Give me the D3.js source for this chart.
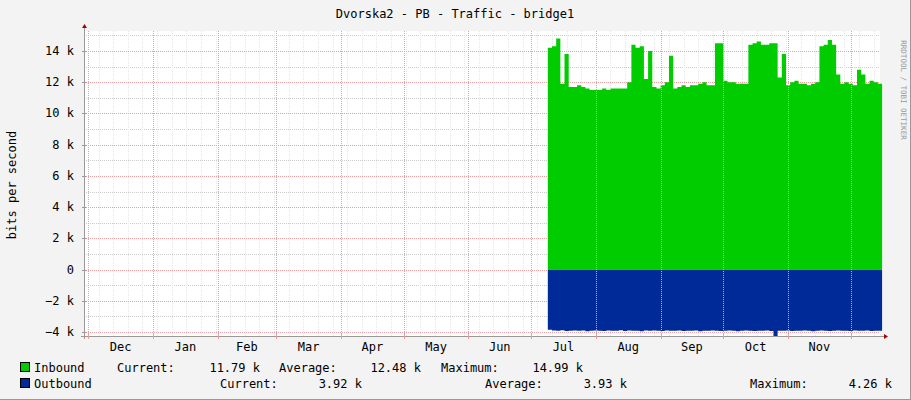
<!DOCTYPE html>
<html><head><meta charset="utf-8">
<script src="https://cdn.jsdelivr.net/npm/d3@7"></script>
<style>body{margin:0;background:#f3f3f3}svg{display:block}text{font-family:"DejaVu Sans Mono",monospace;}</style>
</head><body><svg id="c" width="911" height="400"></svg>
<script>
const title = "Dvorska2 - PB - Traffic - bridge1";
const startDate = "2011-07-09";
const stepDays = 2;
const inbound = [14.2,14.3,14.8,11.9,13.8,11.7,11.7,11.8,11.7,11.6,11.5,11.5,11.5,11.6,11.5,11.6,11.6,11.6,11.6,12.0,
14.4,14.2,14.3,12.2,14.0,11.7,11.6,11.8,12.0,13.7,11.6,11.7,11.8,11.7,11.8,11.8,11.9,12.0,11.8,11.8,
14.5,14.5,12.1,12.0,12.0,11.9,11.9,11.9,14.4,14.5,14.6,14.4,14.4,14.5,14.5,12.3,13.8,11.8,12.0,12.1,
11.9,11.9,11.8,11.9,12.0,14.3,14.4,14.7,14.4,12.5,11.9,12.0,11.9,11.8,12.8,12.5,11.9,12.1,12.0,11.9,11.8];
const outbound = [3.85,3.90,3.92,3.88,3.93,3.91,3.90,3.92,3.89,3.94,3.91,3.90,3.92,3.93,3.90,3.91,3.92,3.88,3.93,3.90,
3.91,3.92,3.94,3.90,3.91,3.89,3.92,3.93,3.90,3.91,3.92,3.90,3.93,3.91,3.92,3.90,3.94,3.91,3.92,3.90,
3.91,3.93,3.92,3.90,3.91,3.94,3.92,3.90,3.91,3.93,3.92,3.91,3.90,3.93,4.26,3.91,3.92,3.90,3.93,3.91,
3.92,3.90,3.91,3.94,3.92,3.90,3.91,3.93,3.92,3.90,3.91,3.92,3.93,3.90,3.91,3.92,3.90,3.93,3.91,3.92,3.92];
const yTicks = [-4,-2,0,2,4,6,8,10,12,14];
const legendRows = [
 {name:"Inbound", color:"#00cc00", items:[["Current:",117,"11.79 k",260],["Average:",279,"12.48 k",421],["Maximum:",441,"14.99 k",583]]},
 {name:"Outbound", color:"#002a97", items:[["Current:",220,"3.92 k",362],["Average:",485,"3.93 k",627],["Maximum:",750,"4.26 k",892]]}
];

const svg = d3.select("#c");
const L=84,R=880,T=31,B=336;
const parse = d3.utcParse("%Y-%m-%d");
const x = d3.scaleUtc().domain([parse("2010-11-29"), parse("2011-12-15")]).range([L,R]);
const y = d3.scaleLinear().domain([-4.25,15.28]).range([B,T]);
const d0 = parse(startDate);
const dates = inbound.map((_,i)=>d3.utcDay.offset(d0,i*stepDays));

svg.append("rect").attr("x",0).attr("y",0).attr("width",911).attr("height",400).attr("fill","#f3f3f3");
svg.append("line").attr("x1",910.5).attr("x2",910.5).attr("y1",0).attr("y2",400).attr("stroke","#999");
svg.append("line").attr("x1",0).attr("x2",911).attr("y1",399.5).attr("y2",399.5).attr("stroke","#999");
svg.append("rect").attr("x",L).attr("y",T).attr("width",R-L).attr("height",B-T).attr("fill","#fff");

const g = svg.append("g");
// minor horizontal grid
d3.range(-4,16,1).forEach(v=>{ if(v%2!==0) g.append("line").attr("x1",L).attr("x2",R).attr("y1",Math.round(y(v))+.5).attr("y2",Math.round(y(v))+.5).attr("stroke","#ccc").attr("stroke-dasharray","1,1");});
// weekly minor vertical grid
x.ticks(d3.utcMonday.every(1)).forEach(d=>g.append("line").attr("x1",Math.round(x(d))+.5).attr("x2",Math.round(x(d))+.5).attr("y1",T).attr("y2",B).attr("stroke","#e6e6e6").attr("stroke-dasharray","1,1"));
yTicks.forEach(v=>g.append("line").attr("x1",L).attr("x2",R).attr("y1",Math.round(y(v))+.5).attr("y2",Math.round(y(v))+.5).attr("stroke","#e8a0a0").attr("stroke-dasharray","1,1"));
const months = x.ticks(d3.utcMonth.every(1));

// areas
const area = d3.area().x((d,i)=>x(dates[i])).y0(y(0)).curve(d3.curveStepAfter);
svg.append("path").datum(inbound).attr("d",area.y1(d=>y(d))).attr("fill","#00cc00");
svg.append("path").datum(outbound).attr("d",area.y1(d=>y(-d))).attr("fill","#002a97");

months.forEach(d=>svg.append("line").attr("x1",Math.round(x(d))+.5).attr("x2",Math.round(x(d))+.5).attr("y1",T).attr("y2",B).attr("stroke","#e8a0a0").attr("stroke-dasharray","1,1"));

// axes
svg.append("line").attr("x1",L-3).attr("x2",R+4).attr("y1",B+.5).attr("y2",B+.5).attr("stroke","#999");
svg.append("path").attr("d",`M${R+4},${B-2}L${R+8},${B+.5}L${R+4},${B+3}Z`).attr("fill","#a00");
svg.append("line").attr("x1",L+.5).attr("x2",L+.5).attr("y1",T-3).attr("y2",B+3).attr("stroke","#999");
svg.append("path").attr("d",`M${L-2},${T-3}L${L+.5},${T-7}L${L+3},${T-3}Z`).attr("fill","#a00");

yTicks.forEach(v=>{
  svg.append("line").attr("x1",L-2).attr("x2",L+2).attr("y1",Math.round(y(v))+.5).attr("y2",Math.round(y(v))+.5).attr("stroke","#999");
  svg.append("text").attr("x",L-10).attr("y",y(v)+4).attr("text-anchor","end").attr("font-size",12).attr("fill","#000").text(v===0?"0":d3.format("d")(v)+" k");
});
const fmt = d3.utcFormat("%b");
months.forEach((d,i)=>{
  svg.append("line").attr("x1",Math.round(x(d))+.5).attr("x2",Math.round(x(d))+.5).attr("y1",B-2).attr("y2",B+3).attr("stroke","#e8a0a0");
  if(i<months.length-1){
    const mid = (x(d)+x(months[i+1]))/2;
    svg.append("text").attr("x",mid).attr("y",351).attr("text-anchor","middle").attr("font-size",12).text(fmt(d));
  }
});

svg.append("text").attr("x",455).attr("y",18).attr("text-anchor","middle").attr("font-size",12).text(title);
svg.append("text").attr("transform","translate(16,185) rotate(-90)").attr("text-anchor","middle").attr("font-size",12).text("bits per second");
svg.append("text").attr("transform","translate(901,90) rotate(90)").attr("text-anchor","middle").attr("font-size",7.5).attr("fill","#999").text("RRDTOOL / TOBI OETIKER");

legendRows.forEach((r,i)=>{
  const yy = 372 + i*16;
  svg.append("rect").attr("x",20.5).attr("y",yy-9.5).attr("width",9).attr("height",9).attr("fill",r.color).attr("stroke","#000");
  svg.append("text").attr("x",34).attr("y",yy).attr("font-size",12).text(r.name);
  r.items.forEach(([lab,lx,val,vx])=>{
    svg.append("text").attr("x",lx).attr("y",yy).attr("font-size",12).text(lab);
    svg.append("text").attr("x",vx).attr("y",yy).attr("text-anchor","end").attr("font-size",12).text(val);
  });
});
</script></body></html>
